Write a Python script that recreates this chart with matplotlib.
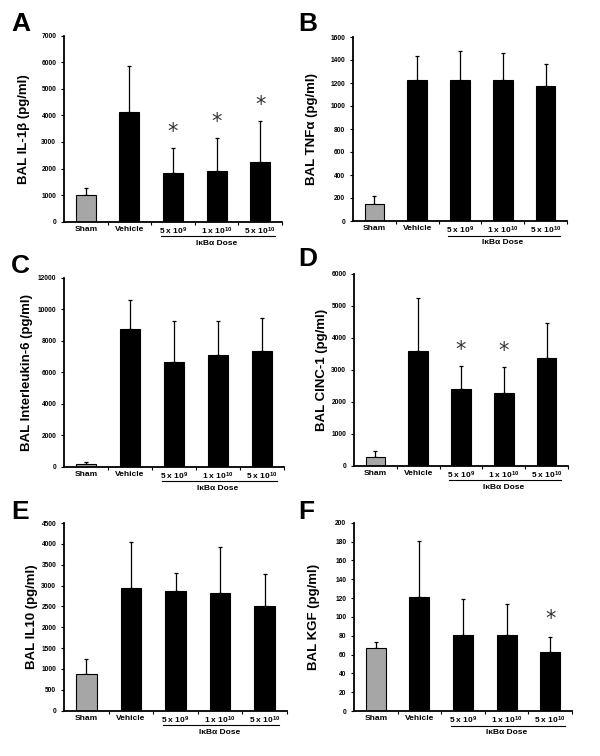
import numpy as np
import matplotlib
matplotlib.use('Agg')
import matplotlib.pyplot as plt
from matplotlib.ticker import FixedLocator

plt.rcParams['font.family'] = ['Liberation Sans', 'DejaVu Sans']
plt.rcParams['font.weight'] = 'bold'
plt.rcParams['mathtext.fontset'] = 'custom'
plt.rcParams['mathtext.rm'] = 'Liberation Sans:bold'
plt.rcParams['mathtext.bf'] = 'Liberation Sans:bold'
plt.rcParams['mathtext.default'] = 'rm'

groups = ['Sham', 'Vehicle', '5 x 10$^{9}$', '1 x 10$^{10}$', '5 x 10$^{10}$']
dose_label = 'IκBα Dose'

# means and mean+SD (top of the error bar)
il1b = [1000, 4130, 1850, 1920, 2250]
il1b_top = [1270, 5860, 2770, 3160, 3800]
tnf = [150, 1222, 1225, 1225, 1175]
tnf_top = [215, 1435, 1478, 1465, 1368]
il6 = [170, 8720, 6620, 7090, 7320]
il6_top = [270, 10580, 9230, 9260, 9470]
cinc = [260, 3605, 2395, 2270, 3375]
cinc_top = [450, 5245, 3135, 3085, 4455]
il10 = [880, 2940, 2860, 2820, 2500]
il10_top = [1240, 4050, 3300, 3920, 3280]
kgf = [67, 121, 81, 81, 62.5]
kgf_top = [73, 181, 118.5, 114, 79]

panels = [
    # letter, mean, top, ylabel, ymax, step, starred, star gap, rect(px l,t,r,b), label off px, letter xy px
    ('A', il1b, il1b_top, 'BAL IL-1β (pg/ml)', 7000, 1000, [2, 3, 4], 590,
     (64, 35.7, 282, 221.7), 34, (11, 12)),
    ('B', tnf, tnf_top, 'BAL TNFα (pg/ml)', 1600, 200, [], 0,
     (353, 37, 567, 221), 35, (298, 12)),
    ('C', il6, il6_top, 'BAL Interleukin-6 (pg/ml)', 12000, 2000, [], 0,
     (64, 277.7, 284, 466.7), 31, (11, 254)),
    ('D', cinc, cinc_top, 'BAL CINC-1 (pg/ml)', 6000, 1000, [2, 3], 490,
     (354, 274, 568, 465.7), 26, (298, 247)),
    ('E', il10, il10_top, 'BAL IL10 (pg/ml)', 4500, 500, [], 0,
     (64, 523, 287, 710.7), 26, (11, 500)),
    ('F', kgf, kgf_top, 'BAL KGF (pg/ml)', 200, 20, [4], 19,
     (354, 522.7, 572, 711), 34, (298, 500)),
]

W, H = 600, 756
fig = plt.figure(figsize=(W / 100, H / 100), dpi=100)
x = np.arange(len(groups))
colors = ['#a6a6a6'] + ['black'] * 4

for letter, mean, top, ylab, ymax, step, starred, gap, (l, t, r, b), loff, (lx, ly) in panels:
    ax = fig.add_axes([l / W, 1 - b / H, (r - l) / W, (b - t) / H])
    mean = np.array(mean, dtype=float)
    err = np.array(top, dtype=float) - mean
    ax.bar(x, mean, width=0.46, color=colors, edgecolor='black', linewidth=0.8, zorder=2)
    ax.errorbar(x, mean, yerr=[np.zeros_like(err), err], fmt='none', ecolor='black',
                elinewidth=0.9, capsize=1.2, capthick=0.9, zorder=1)
    for i in starred:
        ax.text(x[i], top[i] + gap, '*', ha='center', va='center', fontsize=15,
                fontweight='normal', color='#333333', family='DejaVu Sans')

    ax.set_xlim(-0.5, 4.5)
    ax.set_ylim(0, ymax)
    ax.set_yticks(np.arange(0, ymax + step / 2, step))
    ax.set_xticks(x)
    ax.set_xticklabels(groups, fontsize=6, fontweight='bold')
    ax.xaxis.set_minor_locator(FixedLocator([0.5, 1.5, 2.5, 3.5, 4.5]))
    ax.tick_params(axis='x', which='major', length=0, pad=3)
    ax.tick_params(axis='x', which='minor', length=2.5, width=0.8, direction='out')
    ax.tick_params(axis='y', length=2.5, width=0.8, direction='out', labelsize=4.8, pad=3)
    for s in ['top', 'right']:
        ax.spines[s].set_visible(False)
    for s in ['left', 'bottom']:
        ax.spines[s].set_linewidth(1.3)

    ax.set_ylabel(ylab, fontsize=9.5, fontweight='bold')
    ax.yaxis.set_label_coords(-loff / (r - l), 0.5)

    hpx = b - t
    tr = ax.get_xaxis_transform()
    ax.plot([1.72, 4.33], [-14.5 / hpx, -14.5 / hpx], transform=tr, color='black',
            linewidth=0.8, clip_on=False)
    ax.text(3.0, -21.5 / hpx, dose_label, transform=tr, ha='center', va='center',
            fontsize=6, fontweight='bold')

    fig.text(lx / W, 1 - ly / H, letter, ha='left', va='top', fontsize=19,
             fontweight='bold')

fig.savefig('out.png', dpi=100)
